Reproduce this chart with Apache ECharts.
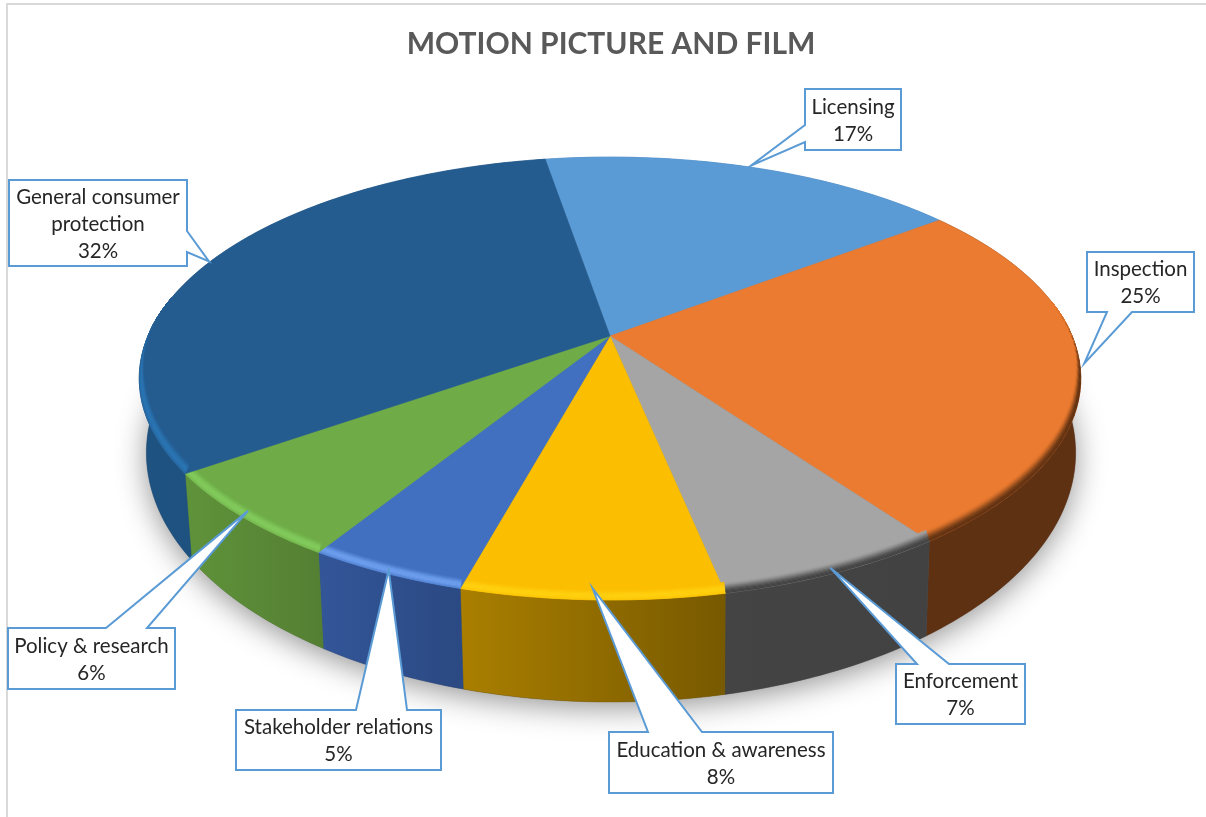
<!DOCTYPE html>
<html><head><meta charset="utf-8">
<style>html,body{margin:0;padding:0;background:#fff}#c{width:1206px;height:817px}</style>
<script src="https://cdn.jsdelivr.net/npm/echarts@6/dist/echarts.min.js"></script>
</head><body><div id="c"></div>
<script>
// ---- data ----
const titleText = 'MOTION PICTURE AND FILM';
const categories = ['Licensing','Inspection','Enforcement','Education & awareness','Stakeholder relations','Policy & research','General consumer protection'];
const shareValues = [17.3,25.45,6.67,7.5,4.6,6.4,32.08];
const firstSliceAngle = -9.6;

// ---- styling, kept apart from the data ----
const topColors  = ['#5B9BD5','#EA7B30','#A5A5A5','#FBBE00','#4170C0','#6FAC48','#255C90'];
const sideStops  = [['#3f76ad','#3f76ad'],['#5E3113','#5E3113'],['#444444','#424242'],['#AA7F00','#775900'],['#335699','#2B4982'],['#5F933A','#547F33'],['#1E5280','#1E4E78']];
const rimColors  = ['#5B9BD5','#5E3113','#424242','#FFD010','#6E9FEE','#82CB5C','#2B76B4'];
const rimDark    = [false,true,true,false,false,false,false];
const upperDisc = {cx:610, cy:336, a:462, b:213.3, k:0.192};
const rimDisc   = {cx:610, cy:325, a:457, b:213.3, k:0.192};
const lowerDisc = {cx:611, cy:405, a:456, b:240,   k:0.192};
// callout boxes: [left, top, right, bottom]; wedge: side + base points on that side
const calloutLines = [['Licensing'],['Inspection'],['Enforcement'],['Education & awareness'],['Stakeholder relations'],['Policy & research'],['General consumer','protection']];
const calloutBoxes = [[805,89,901,150],[1087,252,1194,312],[896,664,1025,724],[609,732,833,793],[236,710,441,770],[8,628,175,689],[9,180,187,266]];
const calloutBases = [['l',125,142],['b',1107,1132],['t',917,949],['t',648,702],['t',356,407],['t',106,147],['r',231,252]];
const calloutDepth = [1.0,1.0,0.985,0.965,0.985,0.97,1.0];
const calloutNudge = [[-3,-2],[4,-5],[-1,-1],[0,0],[-1,1],[-6,1],[-4,2]];
const lineH = 27;

// ---- geometry from the values ----
const total = shareValues.reduce((s,v)=>s+v,0);
const spans = [];
(function(){let a=firstSliceAngle;shareValues.forEach(v=>{const d=v/total*360;spans.push([a,a+d]);a+=d;});})();
function project(disc,deg,r){
  const t=deg*Math.PI/180,u=r*Math.sin(t),v=-r*Math.cos(t),w=1-disc.k*v;
  return [disc.cx+disc.a*u/w, disc.cy+disc.b*v/w];
}
function arc(disc,a0,a1,r,step){
  const n=Math.max(1,Math.ceil(Math.abs(a1-a0)/(step||1))),p=[];
  for(let i=0;i<=n;i++)p.push(project(disc,a0+(a1-a0)*i/n,r));
  return p;
}
function lerpPt(p,q,t){return [p[0]+(q[0]-p[0])*t,p[1]+(q[1]-p[1])*t];}
function hex(c){return [1,3,5].map(i=>parseInt(c.substr(i,2),16));}
function mix(c1,c2,t){const a=hex(c1),b=hex(c2);return 'rgb('+a.map((x,i)=>Math.round(x+(b[i]-x)*t)).join(',')+')';}
function clamp(x){return Math.max(0,Math.min(1,x));}
function smooth(x){x=clamp(x);return x*x*(3-2*x);}
function rimStrength(deg){return smooth((-Math.cos(deg*Math.PI/180)+0.2)/0.45);}
function rimInner(deg){return lerpPt(project(upperDisc,deg,1),project(rimDisc,deg,1),rimStrength(deg));}

const rows = categories.map((n,i)=>[i]);

function renderShadow(p,api){
  if(api.value(0)!==0) return;
  return {type:'polygon',shape:{points:arc(lowerDisc,0,360,1,2)},
    style:{fill:'#777',shadowBlur:30,shadowColor:'rgba(0,0,0,0.42)',shadowOffsetX:0,shadowOffsetY:6}};
}
function renderSide(p,api){
  const i=api.value(0),[a0,a1]=spans[i];
  const pts=arc(upperDisc,a0,a1,1).concat(arc(lowerDisc,a1,a0,1));
  const s=sideStops[i];
  return {type:'polygon',shape:{points:pts},style:{
    fill:new echarts.graphic.LinearGradient(0,0,1,0,[{offset:0,color:s[0]},{offset:1,color:s[1]}]),
    stroke:s[1],lineWidth:0.4}};
}
function renderTop(p,api){
  const i=api.value(0),[a0,a1]=spans[i],children=[];
  const base=topColors[i],rim=rimColors[i],dark=rimDark[i],steps=10;
  children.push({type:'polygon',shape:{points:[project(upperDisc,0,0)].concat(arc(upperDisc,a0,a1,1))},
    style:{fill:base,stroke:base,lineWidth:0.5}});
  const n=Math.max(2,Math.ceil((a1-a0)/2)),da=(a1-a0)/n;
  for(let j=0;j<n;j++){
    const a=a0+j*da,g=rimStrength(a+da/2);
    if(g<=0.01) continue;
    const o0=project(upperDisc,a,1),o1=project(upperDisc,a+da,1),in0=rimInner(a),in1=rimInner(a+da);
    for(let k=0;k<steps;k++){
      const s0=k/steps,s1=(k+1)/steps,t=(k+0.5)/steps;
      const f=dark?smooth(t*1.1):smooth(t/0.6)*(1-0.5*smooth((t-0.75)/0.25));
      const col=mix(base,rim,f*g);
      const pts=[lerpPt(in0,o0,s0),lerpPt(in1,o1,s0),lerpPt(in1,o1,s1),lerpPt(in0,o0,s1)];
      children.push({type:'polygon',shape:{points:pts},style:{fill:col,stroke:col,lineWidth:0.5}});
    }
  }
  return {type:'group',children};
}
function renderCallout(p,api){
  const i=api.value(0),[l,t,r,b]=calloutBoxes[i],base=calloutBases[i];
  const mid=(spans[i][0]+spans[i][1])/2,tp=project(upperDisc,mid,calloutDepth[i]);
  const tip=[tp[0]+calloutNudge[i][0],tp[1]+calloutNudge[i][1]];
  let pts;
  if(base[0]==='t') pts=[[l,t],[base[1],t],tip,[base[2],t],[r,t],[r,b],[l,b]];
  if(base[0]==='b') pts=[[l,t],[r,t],[r,b],[base[2],b],tip,[base[1],b],[l,b]];
  if(base[0]==='l') pts=[[l,t],[r,t],[r,b],[l,b],[l,base[2]],tip,[l,base[1]]];
  if(base[0]==='r') pts=[[l,t],[r,t],[r,base[1]],tip,[r,base[2]],[r,b],[l,b]];
  const children=[{type:'polygon',shape:{points:pts},style:{fill:'#fff',stroke:'#5B9BD5',lineWidth:2}}];
  const lines=calloutLines[i].concat([Math.round(shareValues[i]/total*100)+'%']);
  const cx=(l+r)/2,cy=(t+b)/2+1;
  lines.forEach((s,k)=>children.push({type:'text',style:{x:cx,y:cy+(k-(lines.length-1)/2)*lineH,text:s,
    fill:'#262626',fontSize:20.5,fontFamily:'Lato',align:'center',verticalAlign:'middle'}}));
  return {type:'group',children};
}
const chart=echarts.init(document.getElementById('c'),null,{renderer:'canvas'});
function layer(fn,z){return {type:'custom',coordinateSystem:'none',renderItem:fn,data:rows,z:z,silent:true,animation:false,clip:false};}
chart.setOption({
  animation:false,backgroundColor:'#fff',
  title:{text:titleText,left:606,top:24,textAlign:'center',textStyle:{color:'#595959',fontFamily:'Lato',fontWeight:'bold',fontSize:30}},
  graphic:[
    {type:'rect',z:0,shape:{x:6,y:3,width:2,height:814},style:{fill:'#D9D9D9'}},
    {type:'rect',z:0,shape:{x:6,y:3,width:1200,height:2},style:{fill:'#D9D9D9'}}
  ],
  series:[layer(renderShadow,1),layer(renderSide,2),layer(renderTop,3),layer(renderCallout,4)]
});
</script></body></html>
